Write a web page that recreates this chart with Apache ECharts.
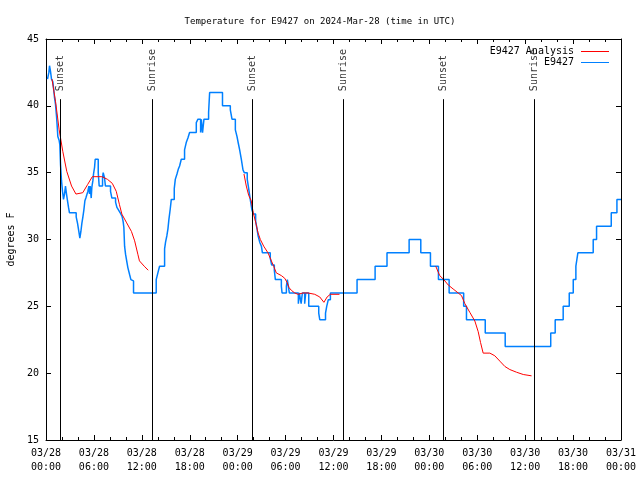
<!DOCTYPE html>
<html><head><meta charset="utf-8">
<script src="https://cdn.jsdelivr.net/npm/echarts@6/dist/echarts.min.js"></script>
<style>html,body{margin:0;padding:0;background:#fff}#c{width:640px;height:480px}</style>
</head><body><div id="c"></div>
<script>
const titleText = 'Temperature for E9427 on 2024-Mar-28 (time in UTC)';
const yAxisTitle = 'degrees F';
const xTickLabels = ['03/28\n00:00','03/28\n06:00','03/28\n12:00','03/28\n18:00','03/29\n00:00','03/29\n06:00','03/29\n12:00','03/29\n18:00','03/30\n00:00','03/30\n06:00','03/30\n12:00','03/30\n18:00','03/31\n00:00'];
// hours since 03/28 00:00 UTC, temperature F
const observed = [
[0.19,42],[0.36,42.5],[0.44,43],[0.56,42.6],[0.69,42],[0.86,41.8],[1.07,40.6],[1.19,40.1],[1.32,39.2],[1.40,38.5],[1.48,37.7],[1.65,37.4],[1.73,37.1],[1.82,35.6],[1.94,34.4],[2.07,33.6],[2.19,33.0],[2.32,33.4],[2.44,34.0],[2.57,33.4],[2.69,32.9],[2.82,32.4],[2.94,32.0],[3.78,31.7],[3.95,31.2],[4.11,30.6],[4.24,30.1],[4.37,30.6],[4.49,31.2],[4.62,31.7],[4.74,32.2],[4.87,32.9],[4.99,33.1],[5.24,33.6],[5.37,34.0],[5.45,33.4],[5.53,34.0],[5.66,33.1],[5.74,33.9],[5.87,34.4],[5.95,34.9],[6.08,35.4],[6.16,36.0],[6.54,35.0],[6.66,34.0],[7.08,34.6],[7.16,35.0],[7.33,34.6],[7.44,34.0],[8.08,33.6],[8.25,33.1],[8.71,32.8],[8.88,32.4],[9.09,32.2],[9.29,32.0],[9.54,31.7],[9.67,31.3],[9.75,30.9],[9.84,29.5],[9.96,28.9],[10.13,28.3],[10.25,27.9],[10.46,27.4],[10.63,27.0],[10.80,26.9],[10.96,26.0],
[13.8,27.0],[14.01,27.5],[14.22,28.0],[14.85,29.3],[14.97,29.8],[15.14,30.3],[15.27,30.8],[15.39,31.5],[15.56,32.3],[15.69,33.0],[16.06,33.8],[16.19,34.5],[16.4,34.9],[16.56,35.25],[16.73,35.5],[16.94,36.0],[17.35,36.7],[17.56,37.25],[17.77,37.6],[17.98,38.0],[18.82,38.75],[19.03,39.0],[19.36,38.0],[19.45,39.0],[19.6,38.0],[19.78,39.0],[20.36,39.5],[20.49,41.0],[22.1,40.0],[23.08,39.7],[23.29,39.0],[23.71,38.2],[23.92,37.7],[24.08,37.2],[24.25,36.7],[24.46,36.0],[24.67,35.2],[24.83,35.0],[25.2,34.5],[25.38,33.8],[25.5,33.3],[25.63,32.8],[25.79,32.2],[25.96,31.9],[26.25,31.4],[26.42,30.8],[26.55,30.3],[26.76,29.8],[26.97,29.5],[27.1,29.0],[28.08,28.6],[28.25,28.1],[28.59,27.7],[28.72,27.0],[29.47,26.5],[29.56,26.0],[30.1,26.5],[30.22,27.0],[30.35,26.5],[30.47,26.0],[31.6,25.2],[31.72,26.0],[31.95,25.2],[32.1,26.0],[32.39,25.2],[32.52,26.0],[32.9,25.0],[34.15,24.5],[34.28,24.0],[35.0,24.5],[35.15,25.0],[35.35,25.5],[35.61,26.0],
[38.95,27],[41.21,28],[42.7,29],[45.47,30],[46.93,29],[48.14,28],[49.14,27],[50.48,26],[52.3,25],[52.65,24],[55.0,23],[57.5,22],[63.2,23],[63.76,24],[64.76,25],[65.52,26],[66.02,27],[66.35,28],[66.6,29],[68.52,30],[68.94,31],[70.78,32],[71.49,33],[72.0,33]
];
const analysisSeg1 = [[0.75,42.0],[1.2,40.3],[1.65,38.2],[2.1,36.6],[2.6,35.1],[3.2,34.0],[3.75,33.4],[4.6,33.5],[5.2,34.1],[5.8,34.7],[7.0,34.7],[7.7,34.5],[8.3,34.2],[8.8,33.6],[9.2,32.6],[9.5,31.9],[10.05,31.3],[10.7,30.6],[11.1,29.9],[11.5,28.9],[11.7,28.4],[12.3,28.0],[12.8,27.7]];
const analysisSeg2 = [[24.79,34.9],[25.08,34.0],[25.38,33.3],[25.7,32.9],[25.95,32.0],[26.25,31.3],[26.55,30.5],[26.84,30.0],[27.26,29.5],[27.8,29.0],[28.22,28.4],[28.51,28.0],[28.84,27.5],[29.47,27.3],[29.89,27.1],[30.18,26.8],[30.43,26.4],[30.72,26.2],[31.14,26.0],[31.56,25.9],[32.18,26.0],[32.81,26.0],[33.65,25.9],[34.28,25.7],[34.8,25.3],[35.2,25.7],[35.6,25.9],[36.75,25.9]];
const analysisSeg3 = [[48.8,28.0],[49.3,27.3],[49.81,27.0],[50.36,26.6],[50.98,26.3],[51.61,26.0],[52.03,25.8],[52.45,25.2],[53.07,24.55],[53.7,23.9],[54.12,23.1],[54.41,22.3],[54.74,21.5],[55.58,21.5],[56.2,21.3],[56.83,20.9],[57.46,20.5],[58.08,20.27],[58.92,20.07],[59.76,19.9],[60.8,19.8]];
const sunHours = [1.84, 13.30, 25.82, 37.21, 49.73, 61.11];
const sunNames = ['Sunset','Sunrise','Sunset','Sunrise','Sunset','Sunrise'];
const sunLineTop = 40.5;
const sunLabelBase = 41.1;

const FONT = 'DejaVu Sans Mono';
const RED = '#ff0000', BLUE = '#0080ff';
const chart = echarts.init(document.getElementById('c'), null, {renderer:'canvas'});

function xAxisCfg(pos, showLabel){
  return {type:'value', min:0, max:72, interval:6, position:pos,
    axisLine:{show:true, onZero:false, lineStyle:{color:'#000', width:1}},
    axisTick:{show:true, inside:true, length:5, lineStyle:{color:'#000'}},
    minorTick:{show:true, splitNumber:3, length:3, lineStyle:{color:'#000'}},
    splitLine:{show:false}, minorSplitLine:{show:false},
    axisLabel:{show:showLabel, margin:6, color:'#000', fontFamily:FONT, fontSize:10, lineHeight:14,
      formatter:v=>xTickLabels[Math.round(v/6)]}};
}
function yAxisCfg(pos, showLabel){
  return {type:'value', min:15, max:45, interval:5, position:pos,
    axisLine:{show:true, onZero:false, lineStyle:{color:'#000', width:1}},
    axisTick:{show:true, inside:true, length:5, lineStyle:{color:'#000'}},
    splitLine:{show:false},
    axisLabel:{show:showLabel, margin:7, color:'#000', fontFamily:FONT, fontSize:10},
    name: showLabel ? yAxisTitle : '', nameLocation:'middle', nameGap:30, nameRotate:90,
    nameTextStyle:{color:'#000', fontFamily:FONT, fontSize:10}};
}
const redStyle = {type:'line', name:'E9427 Analysis', xAxisIndex:0, yAxisIndex:0, showSymbol:false, symbol:'none',
  lineStyle:{color:RED, width:1}, itemStyle:{color:RED}, animation:false, z:4};

chart.setOption({
  animation:false,
  title:{text:titleText, left:'center', top:12, textStyle:{fontFamily:FONT, fontSize:9, fontWeight:'normal', color:'#000'}},
  grid:{left:46, right:19, top:39, bottom:40, containLabel:false, outerBoundsMode:'none'},
  legend:{data:['E9427 Analysis','E9427'], orient:'vertical', align:'right', right:26, top:41, itemGap:0,
    itemWidth:28, itemHeight:1, icon:'rect',
    textStyle:{fontFamily:FONT, fontSize:10, color:'#000', lineHeight:11, padding:[0,2,0,0]}},
  xAxis:[xAxisCfg('bottom', true), xAxisCfg('top', false)],
  yAxis:[yAxisCfg('left', true), yAxisCfg('right', false)],
  series:[
    Object.assign({}, redStyle, {data:analysisSeg1}),
    Object.assign({}, redStyle, {data:analysisSeg2}),
    Object.assign({}, redStyle, {data:analysisSeg3}),
    {type:'line', name:'E9427', step:'end', data:observed, showSymbol:false, symbol:'none',
      lineStyle:{color:BLUE, width:1.5}, itemStyle:{color:BLUE}, z:3},
    {type:'scatter', name:'sun', symbolSize:0, silent:true, z:5,
      data: sunHours.map((h,i)=>[h, sunLabelBase, sunNames[i]]),
      label:{show:true, position:'inside', rotate:90, align:'left', verticalAlign:'middle',
        formatter:p=>p.value[2], fontFamily:FONT, fontSize:10, color:'#000'},
      markLine:{silent:true, symbol:'none', animation:false, label:{show:false},
        lineStyle:{color:'#000', width:1, type:'solid'},
        data: sunHours.map(h=>[{coord:[h,15]},{coord:[h,sunLineTop]}])}}
  ]
});
</script></body></html>
